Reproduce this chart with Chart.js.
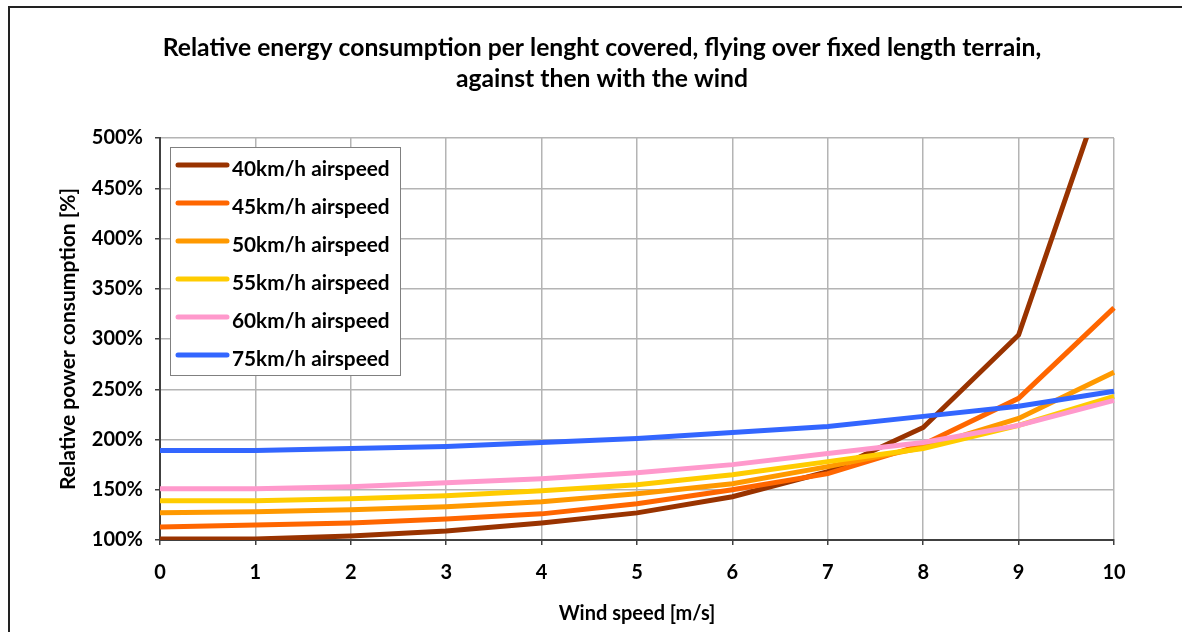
<!DOCTYPE html>
<html>
<head>
<meta charset="utf-8">
<script src="https://cdn.jsdelivr.net/npm/chart.js@4"></script>
<style>
  html, body { margin: 0; padding: 0; background: #fff; overflow: hidden; }
  #wrap { position: relative; width: 1182px; height: 632px; }
  #frame { position: absolute; left: 8px; top: 6px; width: 1400px; height: 800px; border: 2px solid #222; box-sizing: border-box; pointer-events: none; }
  canvas { position: absolute; left: 0; top: 0; }
</style>
</head>
<body>
<div id="wrap">
  <div id="frame"></div>
  <canvas id="chart" width="1182" height="632"></canvas>
</div>
<script>
// Wind speed [m/s]
const windSpeeds = ['0', '1', '2', '3', '4', '5', '6', '7', '8', '9', '10'];

// Relative power consumption [%] per airspeed
const air40 = [101, 101, 104, 109, 117, 127, 143, 168, 212, 304, 580];
const air45 = [113, 115, 117, 121, 126, 136, 150, 166, 195, 241, 331];
const air50 = [127, 128, 130, 133, 138, 146, 156, 173, 192, 221, 267];
const air55 = [139, 139, 141, 144, 149, 155, 165, 178, 191, 214, 243];
const air60 = [151, 151, 153, 157, 161, 167, 175, 186, 197, 214, 239];
const air75 = [189, 189, 191, 193, 197, 201, 207, 213, 223, 233, 248];

const seriesNames = ['40km/h airspeed', '45km/h airspeed', '50km/h airspeed',
                     '55km/h airspeed', '60km/h airspeed', '75km/h airspeed'];
const seriesColors = ['#993300', '#FF6600', '#FF9900', '#FFCC00', '#FF99CC', '#3366FF'];
const seriesData = [air40, air45, air50, air55, air60, air75];

const titleLines = ['Relative energy consumption per lenght covered, flying over fixed length terrain,',
                    'against then with the wind'];

const FONT = 'Lato, "Open Sans", sans-serif';

// Title centred on the whole frame, not on the plot
const frameTitle = {
    id: 'frameTitle',
    beforeDraw(chart) {
        const ctx = chart.ctx;
        ctx.save();
        ctx.fillStyle = '#000';
        ctx.font = 'bold 24.7px ' + FONT;
        ctx.textAlign = 'center';
        ctx.textBaseline = 'middle';
        titleLines.forEach((t, i) => ctx.fillText(t, 602, 48 + i * 31));
        ctx.restore();
    }
};

// Legend box drawn inside the plot area (top left), like the original
const boxLegend = {
    id: 'boxLegend',
    afterDatasetsDraw(chart) {
        const ctx = chart.ctx;
        const x0 = 170, y0 = 147, w = 230, h = 228;
        ctx.save();
        ctx.fillStyle = '#fff';
        ctx.fillRect(x0, y0, w, h);
        ctx.strokeStyle = '#808080';
        ctx.lineWidth = 1;
        ctx.strokeRect(x0 + 0.5, y0 + 0.5, w, h);
        chart.data.datasets.forEach((ds, i) => {
            const y = 165 + i * 38;
            ctx.strokeStyle = ds.borderColor;
            ctx.lineWidth = 5;
            ctx.lineCap = 'round';
            ctx.beginPath();
            ctx.moveTo(178, y);
            ctx.lineTo(227, y);
            ctx.stroke();
            ctx.fillStyle = '#000';
            ctx.font = 'bold 20.8px ' + FONT;
            ctx.textBaseline = 'middle';
            ctx.textAlign = 'left';
            ctx.fillText(ds.label, 232, y + 4);
        });
        ctx.restore();
    }
};

const datasets = seriesNames.map((name, i) => ({
    label: name,
    data: seriesData[i],
    borderColor: seriesColors[i],
    backgroundColor: seriesColors[i],
    borderWidth: 5,
    pointRadius: 0,
    tension: 0,
    order: seriesNames.length - i,
    clip: { left: 0, top: 0, right: 4, bottom: 0 }
}));

new Chart(document.getElementById('chart'), {
    type: 'line',
    data: { labels: windSpeeds, datasets: datasets },
    options: {
        responsive: false,
        animation: false,
        layout: { padding: { left: 8, right: 68, top: 138, bottom: 0 } },
        plugins: {
            legend: { display: false },
            tooltip: { enabled: false },
            title: { display: false }
        },
        scales: {
            x: {
                grid: { color: '#b4b4b4', lineWidth: 1.5, tickLength: 5, tickColor: '#404040', offset: false },
                border: { color: '#404040', width: 2 },
                ticks: { color: '#000', font: { family: FONT, size: 20, weight: 'bold' }, padding: 16, maxRotation: 0 },
                title: {
                    display: true, text: 'Wind speed [m/s]', color: '#000',
                    font: { family: FONT, size: 20, weight: 'bold', lineHeight: 1.2 },
                    padding: { top: 0, bottom: 6 }
                },
                afterFit(scale) { scale.height = 92; }
            },
            y: {
                min: 100, max: 500,
                grid: { color: '#b4b4b4', lineWidth: 1.5, tickLength: 5, tickColor: '#404040' },
                border: { color: '#404040', width: 2 },
                ticks: {
                    stepSize: 50, color: '#000', padding: 12,
                    font: { family: FONT, size: 20, weight: 'bold' },
                    callback: v => v + '%'
                },
                title: {
                    display: true, text: 'Relative power consumption [%]', color: '#000',
                    font: { family: FONT, size: 21, weight: 'bold', lineHeight: 1.2 },
                    padding: { top: 47.5, bottom: 0 }
                },
                afterFit(scale) { scale.width = 152; }
            }
        }
    },
    plugins: [frameTitle, boxLegend]
});
</script>
</body>
</html>
